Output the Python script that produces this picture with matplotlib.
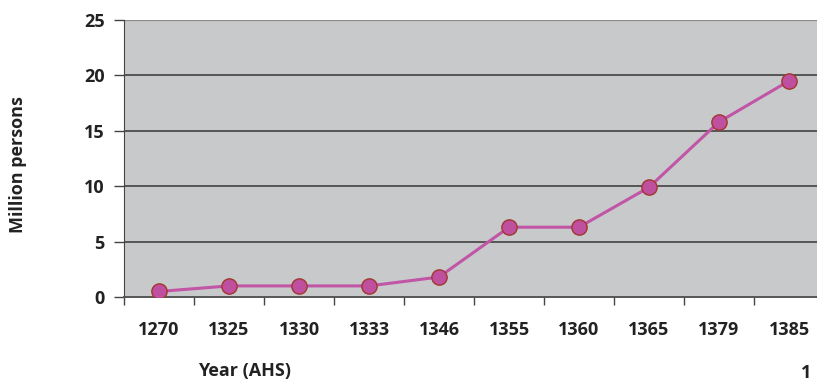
import matplotlib.pyplot as plt
import numpy as np

years = ["1270", "1325", "1330", "1333", "1346", "1355", "1360", "1365", "1379", "1385"]
population = [0.5, 1.0, 1.0, 1.0, 1.8, 6.3, 6.3, 9.9, 15.8, 19.5]
y_ticks = [0, 5, 10, 15, 20, 25]

plt.rcParams["font.family"] = ["Open Sans", "DejaVu Sans"]
plt.rcParams["font.weight"] = "bold"
FS = 13
TXT = "#222222"

fig = plt.figure(figsize=(8.17, 3.83), dpi=100)
W, H = 817, 383
left, right, top, bottom = 124, 824, 20, 297
ax = fig.add_axes([left / W, 1 - bottom / H, (right - left) / W, (bottom - top) / H])
ax.set_facecolor("#c8c9cb")

x = np.arange(len(years))
ax.plot(x, population, color="#c155a6", lw=2.2, zorder=3,
        marker="o", ms=11, mfc="#bf4f9f", mec="#a0382e", mew=1.0)

ax.set_xlim(-0.5, len(years) - 0.5)
ax.set_ylim(0, 25)
ax.set_yticks(y_ticks)
ax.set_yticklabels([str(t) for t in y_ticks], fontsize=FS, fontweight="bold", color=TXT)
for t in y_ticks[1:-1]:
    ax.axhline(t, color="#555555", lw=1.4, zorder=1)
ax.axhline(25, color="#8a8a8a", lw=1.6, zorder=1)

# category labels centred, tick marks on the boundaries
ax.set_xticks(x)
ax.set_xticklabels(years, fontsize=FS, fontweight="bold", color=TXT)
ax.tick_params(axis="x", length=0, pad=17)
ax.set_xticks(np.arange(len(years) + 1) - 0.5, minor=True)
ax.tick_params(axis="x", which="minor", length=6, width=1, color="#444444", direction="out")
ax.tick_params(axis="y", length=7, width=1, color="#444444", pad=7)

for side in ["top", "right"]:
    ax.spines[side].set_visible(False)
ax.spines["left"].set_color("#444444")
ax.spines["bottom"].set_color("#555555")
ax.spines["bottom"].set_linewidth(1.4)

fig.text(18 / W, 1 - 165 / H, "Million persons", rotation=90, ha="center", va="center",
         fontsize=FS, fontweight="bold", color=TXT)
fig.text(245 / W, 1 - 371 / H, "Year (AHS)", ha="center", va="center",
         fontsize=FS, fontweight="bold", color=TXT)
fig.text(806 / W, 1 - 373 / H, "1", ha="center", va="center",
         fontsize=FS, fontweight="bold", color=TXT)

fig.savefig("out.png", dpi=100)
